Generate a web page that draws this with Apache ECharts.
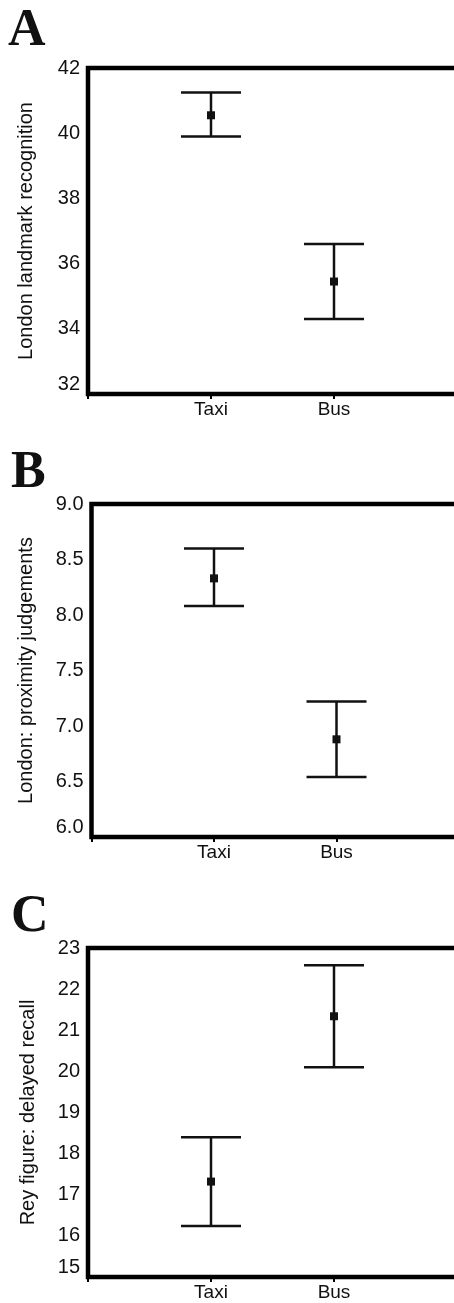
<!DOCTYPE html>
<html><head><meta charset="utf-8">
<script src="https://cdn.jsdelivr.net/npm/echarts@6/dist/echarts.min.js"></script>
<style>html,body{margin:0;padding:0;background:#fff}#c{width:454px;height:1303px}</style>
</head><body><div id="c"></div>
<script>
// ---- data ----
const groups = ['Taxi', 'Bus'];

const landmarkMean = [40.55, 35.45];
const landmarkLow  = [39.9, 34.3];
const landmarkHigh = [41.25, 36.6];

const proximityMean = [8.33, 6.88];
const proximityLow  = [8.08, 6.54];
const proximityHigh = [8.6, 7.22];

const reyMean = [17.32, 21.34];
const reyLow  = [16.24, 20.1];
const reyHigh = [18.4, 22.58];

const yTicksA = [32, 34, 36, 38, 40, 42];
const yTicksB = [6.0, 6.5, 7.0, 7.5, 8.0, 8.5, 9.0];
const yTicksC = [15, 16, 17, 18, 19, 20, 21, 22, 23];

const panelLetters = ['A', 'B', 'C'];
const axisNames = ['London landmark recognition', 'London: proximity judgements', 'Rey figure: delayed recall'];

// ---- layout / style ----
const SANS = 'Arial, "Liberation Sans", sans-serif';
const INK = '#111';
const grids = [
  {left: 88, top: 68, width: 369, height: 326},
  {left: 91.5, top: 504, width: 367.5, height: 333},
  {left: 88, top: 948, width: 369, height: 329}
];
const letterPos = [{left: 8, top: 6}, {left: 11, top: 448}, {left: 11, top: 892}];
const nameGaps = [52, 55, 50];
const panels = [
  {mean: landmarkMean, low: landmarkLow, high: landmarkHigh, ticks: yTicksA, dec: 0},
  {mean: proximityMean, low: proximityLow, high: proximityHigh, ticks: yTicksB, dec: 1},
  {mean: reyMean, low: reyLow, high: reyHigh, ticks: yTicksC, dec: 0}
];

function errorBarItem(params, api) {
  const x = api.value(0);
  const lo = api.coord([x, api.value(1)]);
  const mid = api.coord([x, api.value(2)]);
  const hi = api.coord([x, api.value(3)]);
  const half = 30, m = 8;
  const st = {stroke: INK, lineWidth: 2.5};
  return {type: 'group', children: [
    {type: 'line', shape: {x1: lo[0], y1: lo[1], x2: hi[0], y2: hi[1]}, style: st},
    {type: 'line', shape: {x1: lo[0] - half, y1: lo[1], x2: lo[0] + half, y2: lo[1]}, style: st},
    {type: 'line', shape: {x1: hi[0] - half, y1: hi[1], x2: hi[0] + half, y2: hi[1]}, style: st},
    {type: 'rect', shape: {x: mid[0] - m / 2, y: mid[1] - m / 2, width: m, height: m}, style: {fill: INK}}
  ]};
}

const option = {
  backgroundColor: '#fff',
  animation: false,
  title: panelLetters.map((t, i) => ({
    text: t, left: letterPos[i].left, top: letterPos[i].top, padding: 0,
    textStyle: {fontFamily: '"Liberation Serif", "Times New Roman", serif', fontWeight: 'bold', fontSize: 52, color: INK}
  })),
  grid: grids.map(g => Object.assign({
    show: true, borderColor: '#000', borderWidth: 4.5, backgroundColor: 'transparent',
    outerBoundsMode: 'none', containLabel: false
  }, g)),
  xAxis: grids.map((g, i) => ({
    type: 'value', gridIndex: i, min: 0, max: groups.length + 1, interval: 1,
    axisLine: {show: false}, splitLine: {show: false},
    axisTick: {show: true, length: 5, lineStyle: {color: '#000', width: 2}},
    axisLabel: {
      margin: 6, fontSize: 19, fontFamily: SANS, color: INK,
      formatter: v => groups[v - 1] || ''
    }
  })),
  yAxis: panels.map((p, i) => {
    const t = p.ticks;
    return {
      type: 'value', gridIndex: i, min: t[0], max: t[t.length - 1], interval: t[1] - t[0],
      axisLine: {show: false}, axisTick: {show: false}, splitLine: {show: false},
      axisLabel: {
        margin: 8, fontSize: 20, fontFamily: SANS, color: INK,
        verticalAlignMinLabel: 'bottom',
        formatter: v => v.toFixed(p.dec)
      },
      name: axisNames[i], nameLocation: 'middle', nameGap: nameGaps[i],
      nameTextStyle: {fontSize: 20, fontFamily: SANS, color: INK}
    };
  }),
  series: panels.map((p, i) => ({
    type: 'custom', xAxisIndex: i, yAxisIndex: i,
    renderItem: errorBarItem,
    encode: {x: 0, y: [1, 2, 3]},
    data: groups.map((g, k) => [k + 1, p.low[k], p.mean[k], p.high[k]])
  }))
};

echarts.init(document.getElementById('c')).setOption(option);
</script>
</body></html>
